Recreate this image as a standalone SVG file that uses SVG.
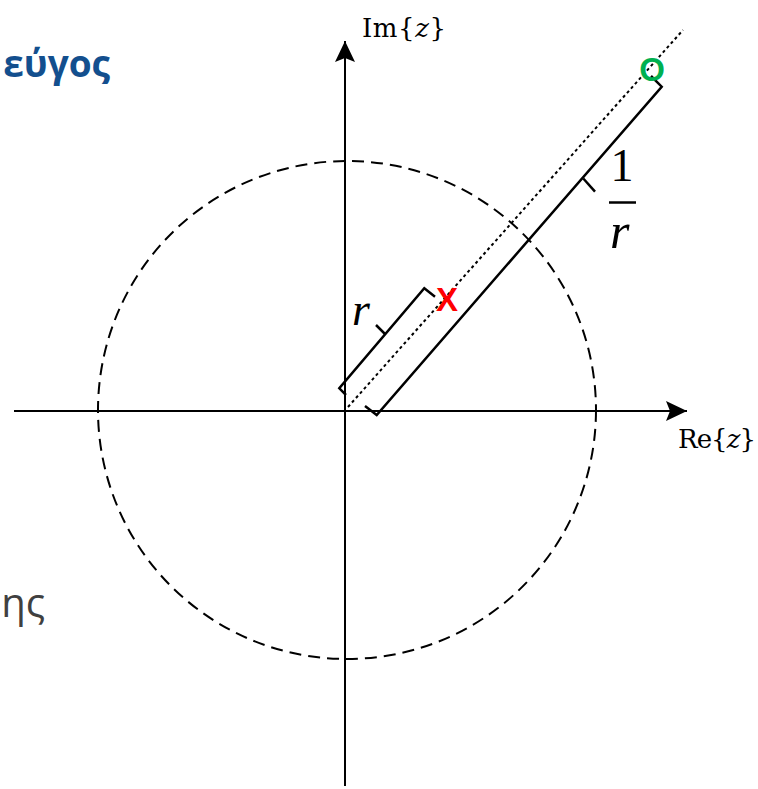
<svg xmlns="http://www.w3.org/2000/svg" width="758" height="789" viewBox="0 0 758 789">
<style>
.ax{stroke:#000;stroke-width:2;fill:none}
.br{stroke:#000;stroke-width:2.5;fill:none;stroke-linejoin:miter}
.lbl{font-family:"DejaVu Serif","Liberation Serif",serif;font-size:26px;fill:#000}
.math{font-family:"Liberation Serif","DejaVu Serif",serif;font-style:italic;fill:#000}
</style>
<defs>
<marker id="arr" markerWidth="24" markerHeight="22" refX="21" refY="11" orient="auto" markerUnits="userSpaceOnUse">
<path d="M0,1 L21,11 L0,21 L4,11 Z" fill="#000"/>
</marker>
</defs>
<rect width="758" height="789" fill="#fff"/>
<g id="bg-text">
<text x="110" y="77" text-anchor="end" font-family="'Open Sans','Noto Sans',sans-serif" font-weight="bold" font-size="37" fill="#134F8E">εύγος</text>
<text x="45" y="617" text-anchor="end" font-family="'Open Sans','Noto Sans',sans-serif" font-size="40" fill="#404040">ης</text>
</g>
<g id="circle">
<circle cx="347" cy="410" r="249" fill="none" stroke="#000" stroke-width="2" stroke-dasharray="12 7"/>
</g>
<g id="connectors">
<line class="ax" x1="345" y1="786" x2="345" y2="41" marker-end="url(#arr)"/>
<line class="ax" x1="14" y1="411" x2="687" y2="411" marker-end="url(#arr)"/>
<line x1="348" y1="407" x2="683" y2="30" stroke="#000" stroke-width="2" stroke-dasharray="3 3"/>
</g>
<g id="bracket-r">
<polyline class="br" points="346,395 339.3,388.3 424.3,288.3 435,296.7"/>
<line class="br" x1="385" y1="334" x2="376" y2="325"/>
</g>
<g id="bracket-1r">
<polyline class="br" points="365,406 376.7,415 661.7,86.7 651,76"/>
<line class="br" x1="583.3" y1="178.5" x2="595" y2="191.7"/>
</g>
<g id="label-im"><text class="lbl" x="362" y="37" textLength="84" lengthAdjust="spacing">Im{<tspan font-style="italic">z</tspan>}</text></g>
<g id="label-re"><text class="lbl" x="678" y="448" textLength="78" lengthAdjust="spacing">Re{<tspan font-style="italic">z</tspan>}</text></g>
<g id="label-r"><text class="math" x="352" y="325" font-size="46">r</text></g>
<g id="label-1r">
<text x="622" y="181" text-anchor="middle" font-family="'Liberation Serif','DejaVu Serif',serif" font-size="46" fill="#000">1</text>
<line x1="609" y1="202.5" x2="636" y2="202.5" stroke="#000" stroke-width="2.5"/>
<text class="math" x="610" y="248" font-size="50">r</text>
</g>
<g id="pole"><text x="447" y="311" text-anchor="middle" font-family="'Liberation Sans',Arial,sans-serif" font-weight="bold" font-size="33" fill="#FF0000">X</text></g>
<g id="zero"><text x="652" y="81" text-anchor="middle" font-family="'Liberation Sans',Arial,sans-serif" font-weight="bold" font-size="33" fill="#00B050">O</text></g>
</svg>
